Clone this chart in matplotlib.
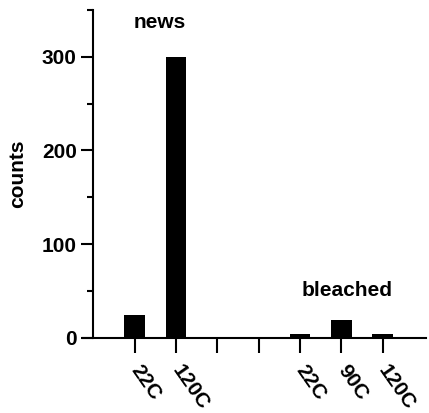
import matplotlib
matplotlib.use("Agg")
import matplotlib.pyplot as plt
from matplotlib.ticker import MultipleLocator

# Counts per sample group
positions = [1, 2, 3, 4, 5, 6, 7]
tick_labels = ["22C", "120C", "", "", "22C", "90C", "120C"]
bar_positions = [1, 2, 5, 6, 7]
counts = [25, 300, 4, 19, 4]

plt.rcParams["font.family"] = ["Liberation Sans", "DejaVu Sans"]
plt.rcParams["font.weight"] = "bold"

fig = plt.figure(figsize=(4.29, 4.13), dpi=100)
ax = fig.add_axes([0.1935, 0.1816, 0.7995, 0.7945])

ax.bar(bar_positions, counts, width=0.5, color="black", zorder=3)

ax.set_xlim(-0.25, 8.05)
ax.set_ylim(0, 350)

for s in ("top", "right"):
    ax.spines[s].set_visible(False)
ax.spines["left"].set_position(("data", 0))
ax.spines["left"].set_linewidth(1.5)
ax.spines["bottom"].set_linewidth(1.5)

ax.set_xticks(positions)
ax.set_xticklabels(tick_labels, rotation=-55, ha="left", va="center",
                   rotation_mode="anchor", fontsize=15, fontweight="bold")
ax.tick_params(axis="x", length=11, width=1.5, pad=10)

ax.yaxis.set_major_locator(MultipleLocator(100))
ax.yaxis.set_minor_locator(MultipleLocator(50))
ax.tick_params(axis="y", which="major", length=9, width=1.5, labelsize=15, pad=3)
ax.tick_params(axis="y", which="minor", length=4, width=1.5)
for lab in ax.get_yticklabels():
    lab.set_fontweight("bold")

fig.text(0.04, 0.58, "counts", rotation=90, ha="center", va="center",
         fontsize=15, fontweight="bold")

ax.text(1.6, 337, "news", ha="center", va="center", fontsize=15, fontweight="bold")
ax.text(6.15, 51, "bleached", ha="center", va="center", fontsize=15, fontweight="bold")

fig.savefig("out.png", dpi=100)
